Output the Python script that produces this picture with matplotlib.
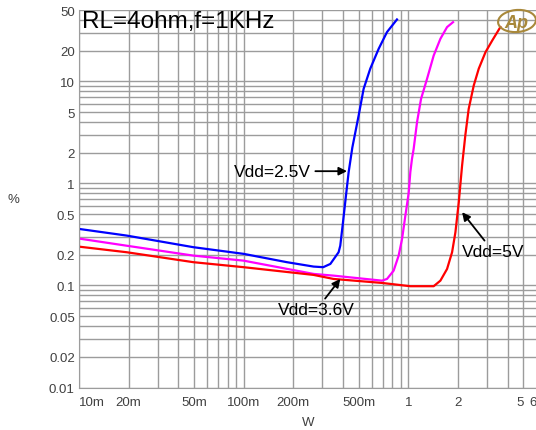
import matplotlib
matplotlib.use("Agg")
import matplotlib.pyplot as plt
from matplotlib.ticker import FixedLocator, LogLocator, NullFormatter
from matplotlib.patches import Ellipse

plt.rcParams['font.family'] = ['Liberation Sans', 'DejaVu Sans']

# THD+N (%) vs output power (W), RL=4ohm, f=1kHz
x_25 = [0.010, 0.0195, 0.0495, 0.0998, 0.183, 0.266, 0.304, 0.336, 0.377, 0.386,
        0.401, 0.418, 0.434, 0.457, 0.499, 0.535, 0.587, 0.660, 0.742, 0.853]
y_25 = [0.358, 0.308, 0.237, 0.204, 0.169, 0.153, 0.151, 0.1625, 0.2115, 0.2455,
        0.4165, 0.759, 1.29, 2.25, 4.62, 8.44, 13.3, 20.8, 30.4, 40.4]

x_36 = [0.010, 0.0195, 0.0495, 0.0998, 0.266, 0.351, 0.692, 0.742, 0.814, 0.873,
        0.916, 0.959, 1.004, 1.028, 1.052, 1.077, 1.129, 1.194, 1.299, 1.425,
        1.565, 1.718, 1.868]
y_36 = [0.288, 0.245, 0.196, 0.175, 0.1297, 0.1248, 0.1114, 0.1158, 0.1396, 0.196,
        0.286, 0.483, 0.80, 1.29, 1.74, 2.18, 3.98, 6.73, 10.6, 17.9,
        26.1, 34.0, 38.0]

x_5 = [0.010, 0.0195, 0.0495, 0.0998, 0.266, 0.351, 0.692, 1.028, 1.425, 1.565,
       1.718, 1.843, 1.931, 2.023, 2.12, 2.22, 2.325, 2.495, 2.676, 2.94,
       3.23, 3.62]
y_5 = [0.240, 0.2115, 0.169, 0.151, 0.1268, 0.1158, 0.1058, 0.0983, 0.0983, 0.1114,
       0.145, 0.2115, 0.332, 0.65, 1.5, 3.0, 5.37, 9.1, 13.3, 19.3,
       25.1, 34.0]

x_ticks = [0.01, 0.02, 0.05, 0.1, 0.2, 0.5, 1, 2, 5, 6]
x_labels = ['10m', '20m', '50m', '100m', '200m', '500m', '1', '2', '5', '6']
y_ticks = [0.01, 0.02, 0.05, 0.1, 0.2, 0.5, 1, 2, 5, 10, 20, 50]
y_labels = ['0.01', '0.02', '0.05', '0.1', '0.2', '0.5', '1', '2', '5', '10', '20', '50']

fig = plt.figure(figsize=(5.36, 4.31), dpi=100)
ax = fig.add_axes([79 / 536, 42.5 / 431, 457.5 / 536, 377.5 / 431])

ax.plot(x_25, y_25, color='#0000ff', lw=1.6)
ax.plot(x_36, y_36, color='#ff00ff', lw=1.6)
ax.plot(x_5, y_5, color='#ff0000', lw=1.6)

ax.set_xscale('log')
ax.set_yscale('log')
ax.set_xlim(0.01, 6)
ax.set_ylim(0.01, 50)

ax.xaxis.set_major_locator(FixedLocator(x_ticks))
ax.xaxis.set_minor_locator(LogLocator(base=10, subs=range(1, 10), numticks=20))
ax.xaxis.set_minor_formatter(NullFormatter())
ax.set_xticklabels(x_labels)
ax.yaxis.set_major_locator(FixedLocator(y_ticks))
ax.yaxis.set_minor_locator(LogLocator(base=10, subs=range(1, 10), numticks=20))
ax.yaxis.set_minor_formatter(NullFormatter())
ax.set_yticklabels(y_labels)

ax.grid(True, which='both', color='#9c9c9c', lw=1)
ax.set_axisbelow(True)
ax.tick_params(which='both', length=0, labelsize=9.5, labelcolor='#404040')
ax.tick_params(axis='x', pad=6)
ax.tick_params(axis='y', pad=3)
xl = ax.get_xticklabels()
xl[0].set_ha('left')
xl[-2].set_ha('right')
xl[-1].set_ha('right')

for s in ['top', 'right']:
    ax.spines[s].set_visible(False)
for s in ['left', 'bottom']:
    ax.spines[s].set_color('#9c9c9c')

fig.text(13 / 536, 1 - 200 / 431, '%', ha='center', va='center', fontsize=9.5, color='#404040')
fig.text(308 / 536, 1 - 423 / 431, 'W', ha='center', va='center', fontsize=9.5, color='#404040')

ax.text(0.007, 0.954, 'RL=4ohm,f=1KHz', transform=ax.transAxes, fontsize=17.5,
        va='baseline', ha='left', color='black')

arrow = dict(arrowstyle='-|>', color='black', lw=1.3, mutation_scale=12, shrinkA=1, shrinkB=0)
ax.annotate('Vdd=2.5V', xy=(0.424, 1.317), xytext=(0.257, 1.317), fontsize=12.5,
            ha='right', va='center', arrowprops=arrow)
ax.annotate('Vdd=3.6V', xy=(0.386, 0.1158), xytext=(0.276, 0.0575), fontsize=12.5,
            ha='center', va='center', arrowprops=arrow)
ax.annotate('Vdd=5V', xy=(2.12, 0.522), xytext=(3.29, 0.2128), fontsize=12.5,
            ha='center', va='center', arrowprops=arrow)

# Ap logo
gold = '#a8883a'
fig.add_artist(Ellipse((517 / 536, 1 - 22 / 431), 38 / 536, 22 / 431, angle=8,
                       fill=False, edgecolor=gold, lw=1.5, transform=fig.transFigure))
fig.text(516 / 536, 1 - 23 / 431, 'Ap', ha='center', va='center', fontsize=13,
         fontstyle='italic', fontweight='bold', color=gold)

fig.savefig('out.png', dpi=100)
